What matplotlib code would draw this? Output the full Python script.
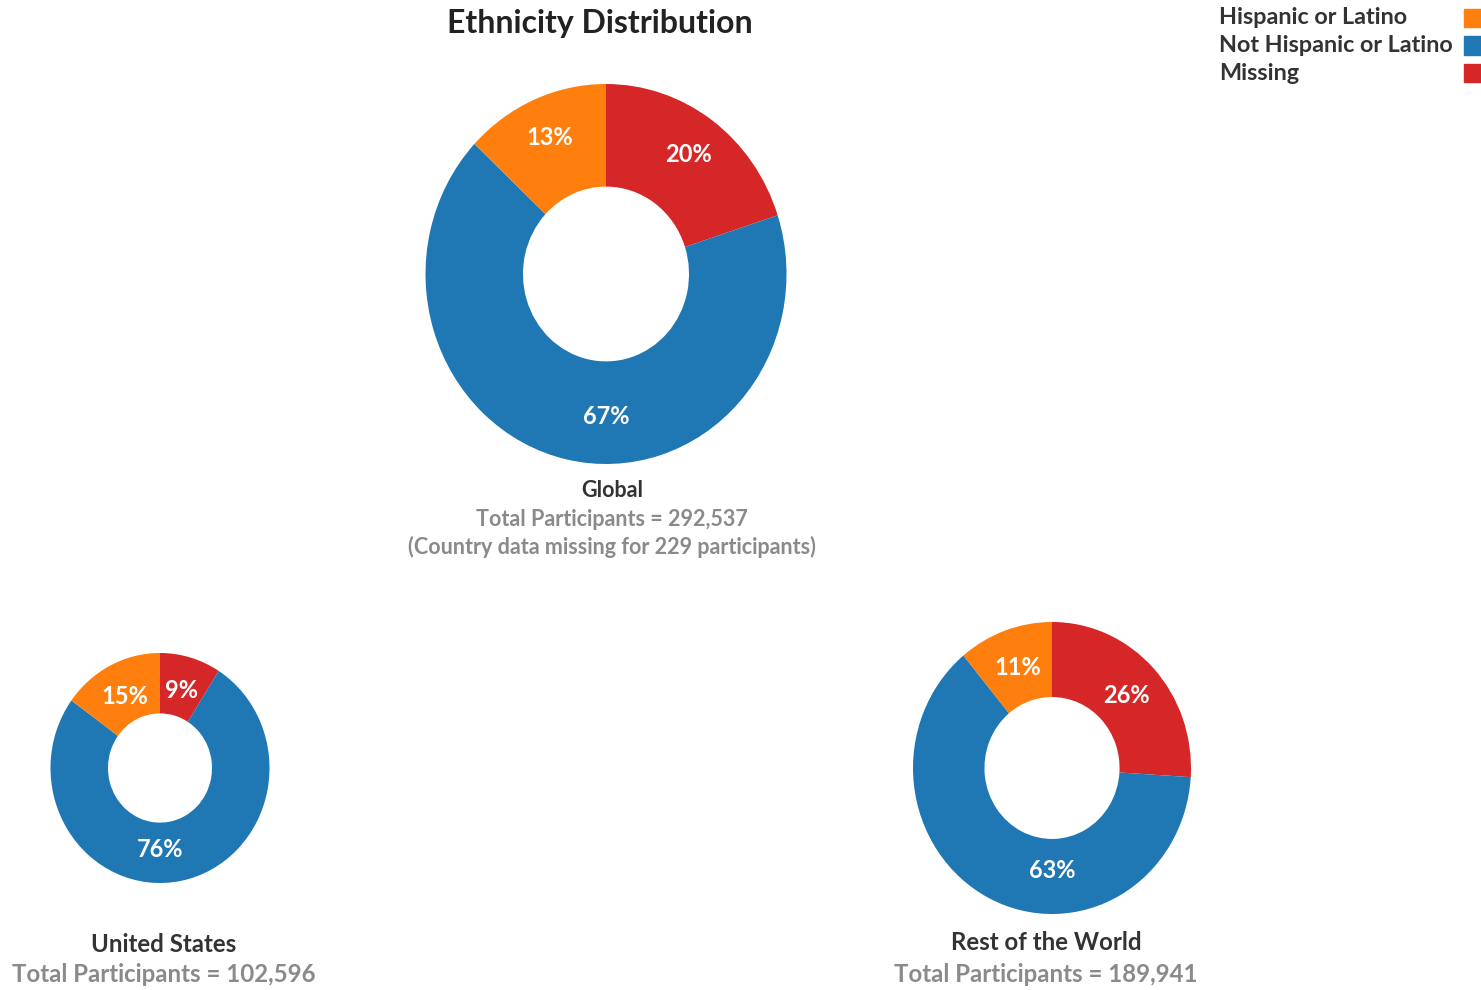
import matplotlib.pyplot as plt
from matplotlib.patches import Rectangle

plt.rcParams["font.family"] = ["Lato", "DejaVu Sans"]

# data
categories = ["Missing", "Not Hispanic or Latino", "Hispanic or Latino"]
global_pct = [20, 67, 13]
us_pct = [9, 76, 15]
row_pct = [26, 63, 11]

panel_names = ["Global", "United States", "Rest of the World"]
panel_totals = ["292,537", "102,596", "189,941"]
global_note = "(Country data missing for 229 participants)"

legend_order = ["Hispanic or Latino", "Not Hispanic or Latino", "Missing"]

COLORS = {
    "Hispanic or Latino": "#FF7F0E",
    "Not Hispanic or Latino": "#1F77B4",
    "Missing": "#D62728",
}
DARK = "#333333"
GREY = "#8A8A8A"

W, H = 1481, 990
fig = plt.figure(figsize=(W / 100, H / 100), dpi=100)


def px_axes(cx, cy, rx, ry):
    """Axes centred on pixel (cx, cy) with half-sizes rx, ry."""
    return fig.add_axes([(cx - rx) / W, 1 - (cy + ry) / H, 2 * rx / W, 2 * ry / H])


def donut(ax, values, hole, pctdist, big_dist):
    wedges, _, autotexts = ax.pie(
        values,
        colors=[COLORS[c] for c in categories],
        startangle=90,
        counterclock=False,
        radius=1,
        wedgeprops=dict(width=1 - hole, linewidth=0),
        autopct=lambda p: f"{p:.0f}%",
        pctdistance=pctdist,
        textprops=dict(color="white", fontsize=17, fontweight="bold"),
    )
    # the big slice gets its label straight below the centre
    autotexts[categories.index("Not Hispanic or Latino")].set_position((0, -big_dist))
    ax.set_aspect("auto")
    ax.set_xlim(-1, 1)
    ax.set_ylim(-1, 1)
    return ax


donut(px_axes(606, 274, 180.5, 190), global_pct, 0.46, 0.78, 0.75)
donut(px_axes(160, 768, 109.5, 115), us_pct, 0.475, 0.70, 0.71)
donut(px_axes(1052, 768, 139, 146), row_pct, 0.486, 0.73, 0.70)

# title
fig.text(600 / W, 1 - 24 / H, "Ethnicity Distribution", ha="center", va="center",
         fontsize=23, fontweight="bold", color="#222222")

# captions under each donut: (x, y, line step, font size)
captions = [(612, 490, 29, 15.5), (164, 944, 31, 17.3), (1046, 943, 32, 17.3)]
for (x, y, dy, fs), name, total in zip(captions, panel_names, panel_totals):
    fig.text(x / W, 1 - y / H, name, ha="center", va="center",
             fontsize=fs, fontweight="bold", color=DARK)
    fig.text(x / W, 1 - (y + dy) / H, f"Total Participants = {total}",
             ha="center", va="center", fontsize=fs, fontweight="bold", color=GREY)
fig.text(612 / W, 1 - 547 / H, global_note, ha="center", va="center",
         fontsize=15.5, fontweight="bold", color=GREY)

# legend
for i, cat in enumerate(legend_order):
    y = 18 + i * 27.5
    fig.text(1219 / W, 1 - y / H, cat, ha="left", va="center",
             fontsize=16.8, fontweight="bold", color=DARK)
    fig.patches.append(Rectangle((1464 / W, 1 - (y + 9) / H), 18 / W, 18 / H,
                                 transform=fig.transFigure, color=COLORS[cat]))

fig.savefig("out.png", dpi=100)
